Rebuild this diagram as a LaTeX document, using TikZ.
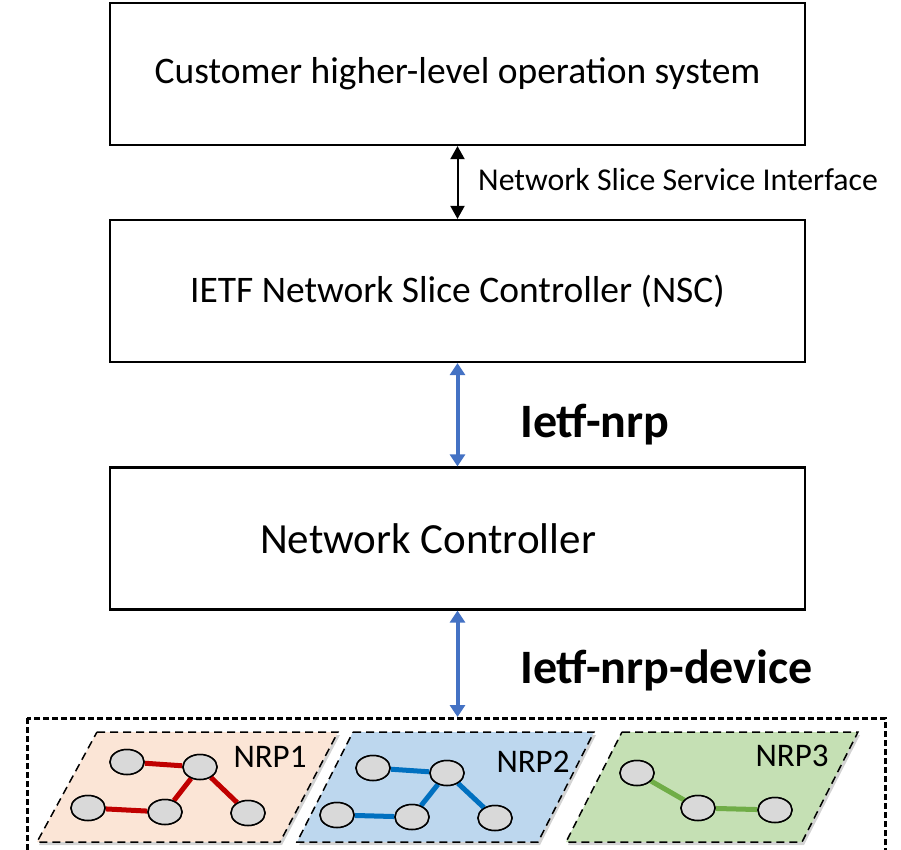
\documentclass[tikz,border=0pt]{standalone}
\usepackage{fontspec}
\setmainfont{Carlito}
\usetikzlibrary{arrows.meta,shadows,shapes.geometric}
\definecolor{arrblue}{HTML}{4472C4}
\definecolor{nrpred}{HTML}{C00000}
\definecolor{nrpblue}{HTML}{0070C0}
\definecolor{nrpgreen}{HTML}{70AD47}
\definecolor{fillred}{HTML}{FBE5D6}
\definecolor{fillblue}{HTML}{BDD7EE}
\definecolor{fillgreen}{HTML}{C5E0B4}
\tikzset{
  mainbox/.style={draw, line width=2.2pt, minimum width=695pt, minimum height=142pt, inner sep=0pt, font=\fontsize{37.5}{44}\selectfont},
  dev/.style={ellipse, draw, line width=1.5pt, fill=black!15, minimum width=34pt, minimum height=25pt, inner sep=0pt},
  blackarr/.style={line width=2pt, {Triangle[length=13pt,width=14pt]}-{Triangle[length=13pt,width=14pt]}},
  bluearr/.style={line width=4pt, draw=arrblue, {Triangle[length=12pt,width=15pt]}-{Triangle[length=12pt,width=15pt]}},
  boldlab/.style={font=\bfseries\fontsize{48}{56}\selectfont, anchor=west, inner sep=0pt},
  nrp/.style={draw, line width=1.5pt, dash pattern=on 8pt off 5pt, drop shadow={opacity=0.35, shadow xshift=2pt, shadow yshift=-3pt}},
  nrplab/.style={font=\fontsize{33}{40}\selectfont, inner sep=0pt},
  link/.style={line width=5pt}
}
\begin{document}
\begin{tikzpicture}[x=1pt,y=-1pt]
\useasboundingbox (0,0) rectangle (901,850);
\clip (0,0) rectangle (901,850);
% main boxes
\node[mainbox] (cust) at (457.5,74) {Customer higher-level operation system};
\node[mainbox] (nsc) at (457.5,291) {IETF Network Slice Controller (NSC)};
\node[mainbox, font=\fontsize{43}{50}\selectfont] (nc) at (457.5,538.5) {\raisebox{-5pt}{Network Controller}\kern59pt};
% outer dashed region
\draw[line width=3pt, dash pattern=on 6pt off 3pt] (27,718) rectangle (885,870);
\coordinate (devtop) at (457.5,717);
% arrows
\draw[blackarr] (cust.south) -- (nsc.north);
\node[anchor=west, inner sep=0pt, font=\fontsize{31.8}{38}\selectfont] (nssi) at (478,180) {Network Slice Service Interface};
\draw[bluearr] (nsc.south) -- (nc.north);
\node[boldlab] (l1) at (520,425) {Ietf-nrp};
\draw[bluearr] (nc.south) -- (devtop);
\node[boldlab] (l2) at (520,670) {Ietf-nrp-device};
% NRP1
\draw[nrp, fill=fillred] (97,732) -- (338,732) -- (280,842) -- (37,842) -- cycle;
\node[nrplab] (n1) at (270,757) {NRP1};
\node[dev] (a1) at (127,762) {};
\node[dev] (a2) at (200,767) {};
\node[dev] (a3) at (88,808) {};
\node[dev] (a4) at (165,812) {};
\node[dev] (a5) at (248,813) {};
\draw[link, nrpred] (a1) -- (a2) (a2) -- (a4) (a3) -- (a4) (a2) -- (a5);
\foreach \n in {a1,a2,a3,a4,a5} \node[dev] at (\n) {};
% NRP2
\draw[nrp, fill=fillblue] (353,732) -- (594,732) -- (538,842) -- (297,842) -- cycle;
\node[nrplab] (n2) at (533,762) {NRP2};
\node[dev] (b1) at (373,768) {};
\node[dev] (b2) at (447,773) {};
\node[dev] (b3) at (337,815) {};
\node[dev] (b4) at (412,817) {};
\node[dev] (b5) at (495,818) {};
\draw[link, nrpblue] (b1) -- (b2) (b2) -- (b4) (b3) -- (b4) (b2) -- (b5);
\foreach \n in {b1,b2,b3,b4,b5} \node[dev] at (\n) {};
% NRP3
\draw[nrp, fill=fillgreen] (622,732) -- (858,732) -- (802,842) -- (566,842) -- cycle;
\node[nrplab] (n3) at (792,756) {NRP3};
\node[dev] (c1) at (637,773) {};
\node[dev] (c2) at (698,808) {};
\node[dev] (c3) at (775,810) {};
\draw[link, nrpgreen] (c1) -- (c2) (c2) -- (c3);
\foreach \n in {c1,c2,c3} \node[dev] at (\n) {};
\end{tikzpicture}
\end{document}
